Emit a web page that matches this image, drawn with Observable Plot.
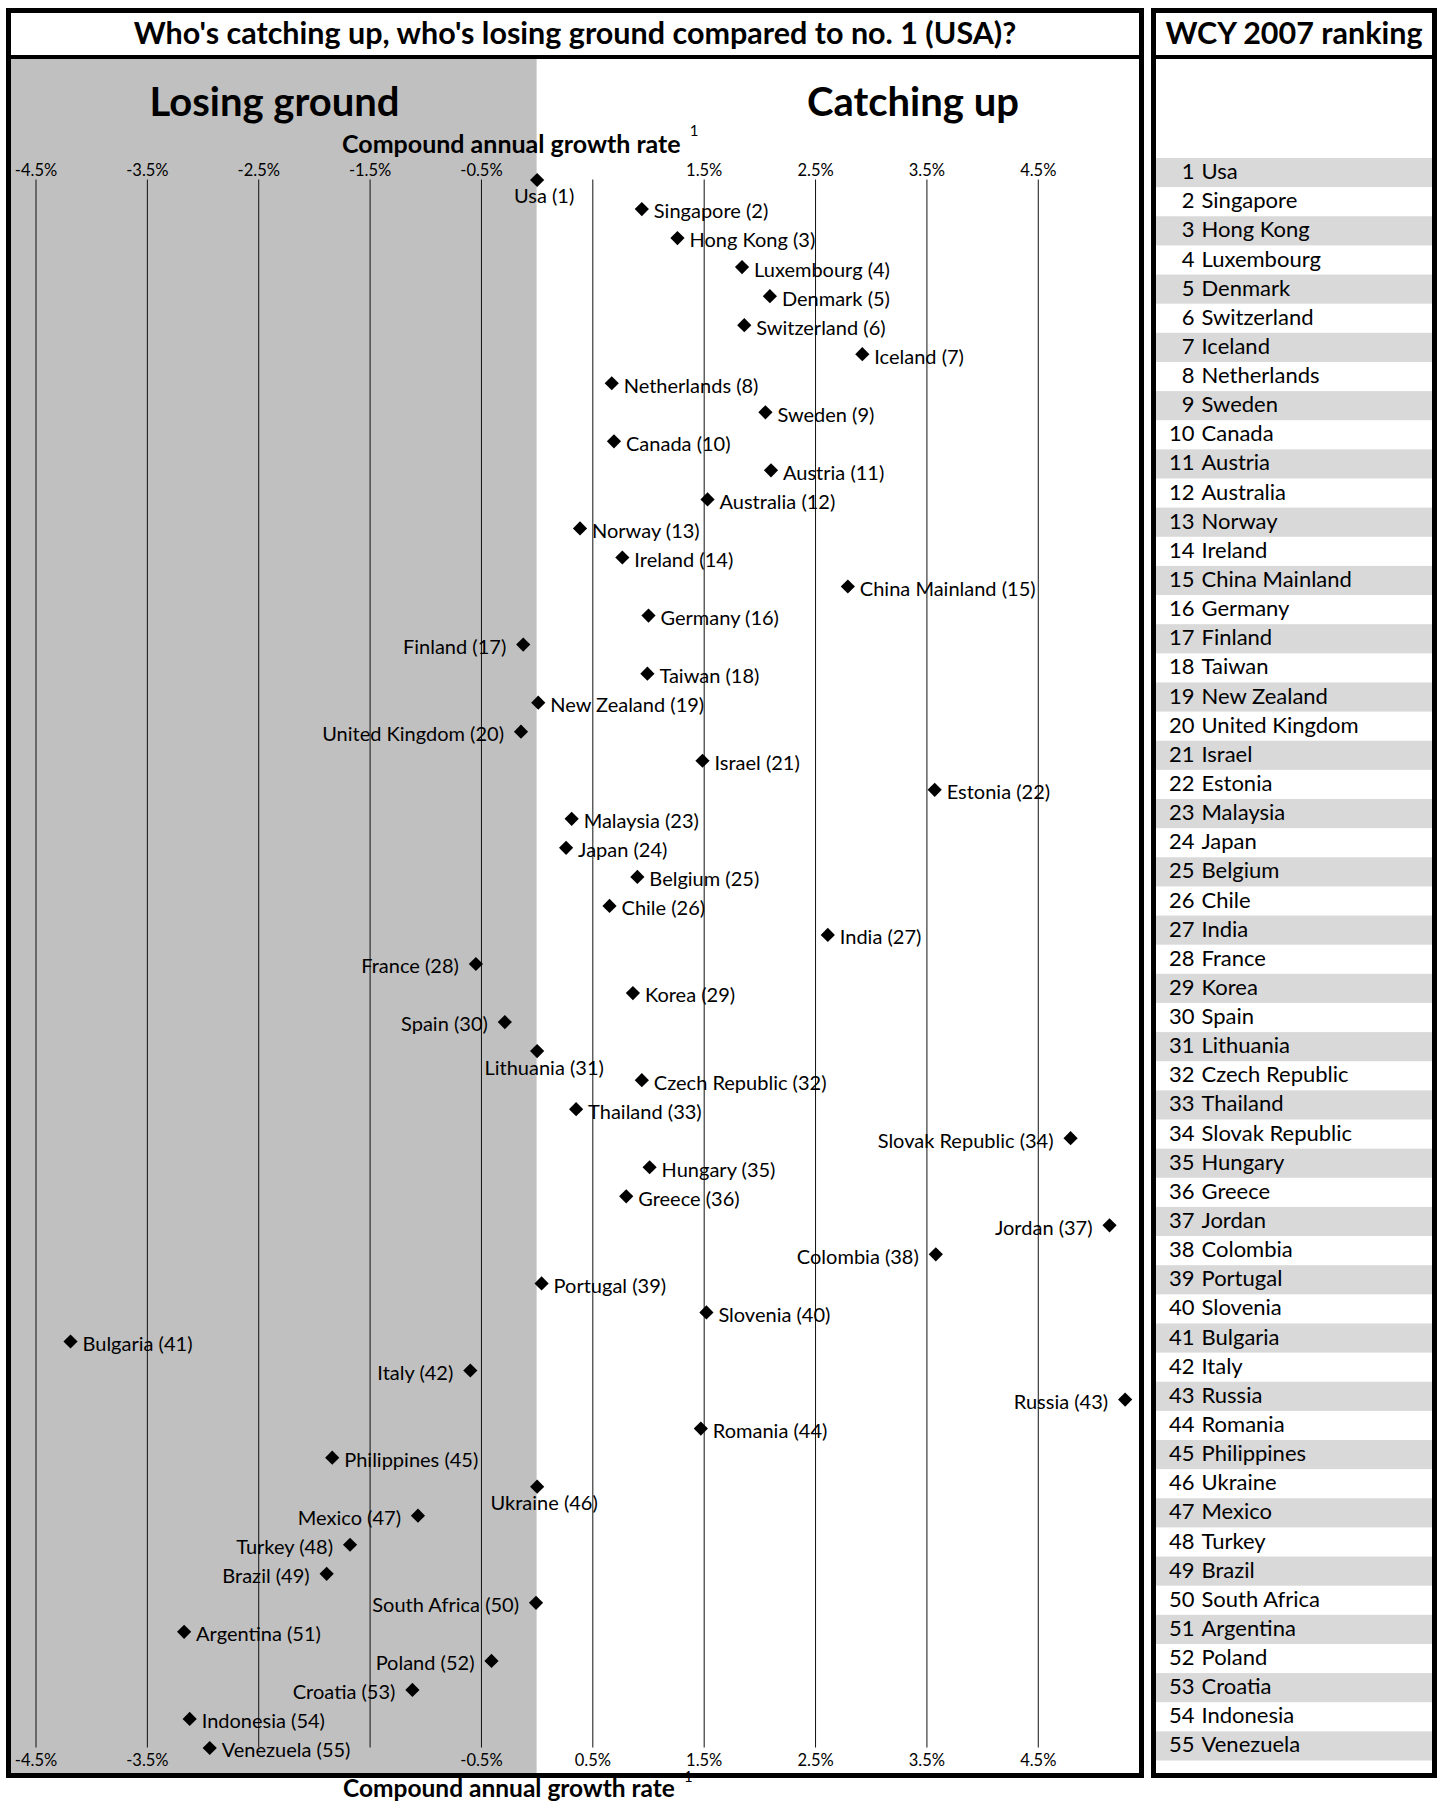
<!DOCTYPE html>
<html><head><meta charset="utf-8">
<script src="https://cdn.jsdelivr.net/npm/d3@7"></script>
<script src="https://cdn.jsdelivr.net/npm/@observablehq/plot@0.6"></script>
<style>
body{margin:0;background:#fff;font-family:"Gill Sans","Gill Sans MT",Lato,sans-serif;color:#000;}
#root{position:relative;width:1439px;height:1801px;overflow:hidden;}
.box{position:absolute;border:5px solid #000;box-sizing:border-box;}
.abs{position:absolute;white-space:nowrap;}
.ttl{position:absolute;display:flex;align-items:center;justify-content:center;font-weight:bold;white-space:nowrap;}
sup{font-weight:normal;font-size:15px;line-height:15px;vertical-align:top;position:relative;top:-8px;margin-left:9px;}
</style></head><body>
<div id="root">
  <div id="chart" class="abs" style="left:0;top:0"></div>
  <div id="rank" class="abs" style="left:1155px;top:0"></div>
  <div class="box" style="left:6px;top:8px;width:1138px;height:1770px"></div>
  <div class="box" style="left:1151px;top:8px;width:286px;height:1770px"></div>
  <div class="abs" style="left:6px;top:55px;width:1138px;height:4px;background:#000"></div>
  <div class="abs" style="left:1151px;top:55px;width:286px;height:4px;background:#000"></div>
  <div class="ttl" id="title" style="left:11px;top:11px;width:1128px;height:42px;font-size:30.5px"></div>
  <div class="ttl" id="rtitle" style="left:1156px;top:11px;width:276px;height:42px;font-size:30.5px"></div>
  <div class="ttl" id="lose" style="left:11px;top:76px;width:527px;height:50px;font-size:40px"></div>
  <div class="ttl" id="catch" style="left:763px;top:76px;width:300px;height:50px;font-size:40px"></div>
  <div class="abs" id="axTop" style="left:342px;top:131px;font-size:25px;line-height:25px;font-weight:bold"></div>
  <div class="abs" id="axBot" style="left:343px;top:1777px;font-size:24.5px;line-height:21px;font-weight:bold"></div>
</div>
<script>
// ---- data ----
const countries = ["Usa","Singapore","Hong Kong","Luxembourg","Denmark","Switzerland","Iceland","Netherlands","Sweden","Canada",
  "Austria","Australia","Norway","Ireland","China Mainland","Germany","Finland","Taiwan","New Zealand","United Kingdom",
  "Israel","Estonia","Malaysia","Japan","Belgium","Chile","India","France","Korea","Spain",
  "Lithuania","Czech Republic","Thailand","Slovak Republic","Hungary","Greece","Jordan","Colombia","Portugal","Slovenia",
  "Bulgaria","Italy","Russia","Romania","Philippines","Ukraine","Mexico","Turkey","Brazil","South Africa",
  "Argentina","Poland","Croatia","Indonesia","Venezuela"];
const growth = [0.00,0.94,1.26,1.84,2.09,1.86,2.92,0.67,2.05,0.69,
  2.10,1.53,0.385,0.765,2.79,1.00,-0.125,0.99,0.01,-0.145,
  1.485,3.57,0.31,0.26,0.90,0.65,2.61,-0.55,0.86,-0.29,
  0.00,0.94,0.35,4.79,1.01,0.80,5.14,3.58,0.04,1.52,
  -4.19,-0.60,5.28,1.47,-1.84,0.00,-1.07,-1.68,-1.89,-0.01,
  -3.17,-0.41,-1.12,-3.12,-2.94];
const labelLeft = ["Finland","United Kingdom","France","Spain","Slovak Republic","Jordan","Colombia","Italy","Russia",
  "Mexico","Turkey","Brazil","South Africa","Poland","Croatia"];
const labelBelow = ["Usa","Lithuania","Ukraine"];
const gridValues = [-4.5,-3.5,-2.5,-1.5,-0.5,0.5,1.5,2.5,3.5,4.5];
const topTicks = [-4.5,-3.5,-2.5,-1.5,-0.5,1.5,2.5,3.5,4.5];
const bottomTicks = [-4.5,-3.5,-0.5,0.5,1.5,2.5,3.5,4.5];
const titleText = "Who's catching up, who's losing ground compared to no. 1 (USA)?";
const rankTitle = "WCY 2007 ranking";
const leftHeading = "Losing ground";
const rightHeading = "Catching up";
const axisTitle = "Compound annual growth rate";
const footnoteMark = "1";

// ---- build ----
const FONT = '"Gill Sans","Gill Sans MT",Lato,sans-serif';
const data = countries.map((c, i) => ({country: c, rank: i + 1, growth: growth[i],
  side: labelLeft.includes(c) ? "left" : labelBelow.includes(c) ? "below" : "right"}));
const xDomain = [-4.72, 5.4];
const fmt = d => d + "%";

document.getElementById("title").textContent = titleText;
document.getElementById("rtitle").textContent = rankTitle;
document.getElementById("lose").textContent = leftHeading;
document.getElementById("catch").textContent = rightHeading;
for (const id of ["axTop","axBot"]) {
  const el = document.getElementById(id);
  el.textContent = axisTitle;
  const s = document.createElement("sup"); s.textContent = footnoteMark; el.appendChild(s);
}

const lab = d => `${d.country} (${d.rank})`;
const chart = Plot.plot({
  width: 1143, height: 1801,
  marginLeft: 11, marginRight: 5, marginTop: 59, marginBottom: 28,
  x: {domain: xDomain, axis: null},
  y: {domain: [1, 55], range: [179.5, 1747.5], axis: null},
  style: {fontFamily: FONT, background: "transparent"},
  marks: [
    Plot.rect([0], {x1: xDomain[0], x2: 0, fill: "#c0c0c0"}),
    Plot.ruleX(gridValues, {x: d => d, y1: 1, y2: 55, stroke: "#111", strokeWidth: 1}),
    Plot.text(topTicks, {x: d => d, text: fmt, frameAnchor: "top", dy: 105, fontSize: 16.5, fill: "#000"}),
    Plot.text(bottomTicks, {x: d => d, text: fmt, frameAnchor: "bottom", dy: -8, fontSize: 16.5, fill: "#000"}),
    Plot.dot(data, {x: "growth", y: "rank", symbol: "diamond2", r: 6.4, fill: "#000", stroke: null}),
    Plot.text(data.filter(d => d.side === "right"), {x: "growth", y: "rank", text: lab, textAnchor: "start", dx: 12, dy: 3, fontSize: 20, fill: "#000"}),
    Plot.text(data.filter(d => d.side === "left"), {x: "growth", y: "rank", text: lab, textAnchor: "end", dx: -17, dy: 3, fontSize: 20, fill: "#000"}),
    Plot.text(data.filter(d => d.side === "below"), {x: "growth", y: "rank", text: lab, textAnchor: "middle", dx: 7, dy: 17, fontSize: 20, fill: "#000"})
  ]
});
document.getElementById("chart").appendChild(chart);

const rankPlot = Plot.plot({
  width: 277, height: 1801,
  marginLeft: 0, marginRight: 0, marginTop: 0, marginBottom: 0,
  x: {axis: null},
  y: {type: "band", domain: data.map(d => d.rank), range: [158, 1760.5], padding: 0, round: false, axis: null},
  style: {fontFamily: FONT, background: "transparent"},
  marks: [
    Plot.cell(data.filter(d => d.rank % 2 === 1), {y: "rank", fill: "#d9d9d9"}),
    Plot.text(data, {y: "rank", text: d => String(d.rank), frameAnchor: "left", textAnchor: "end", dx: 39, dy: -1, fontSize: 22, fill: "#000"}),
    Plot.text(data, {y: "rank", text: "country", frameAnchor: "left", textAnchor: "start", dx: 46, dy: -1, fontSize: 22, fill: "#000"})
  ]
});
document.getElementById("rank").appendChild(rankPlot);
</script>
</body></html>
